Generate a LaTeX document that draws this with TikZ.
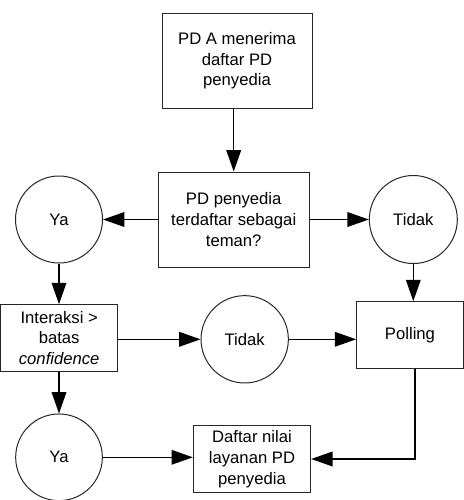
\documentclass[tikz,border=0pt]{standalone}
\usepackage{fontspec}
\setmainfont{Liberation Sans}
\usetikzlibrary{arrows.meta}
\begin{document}
\begin{tikzpicture}[x=0.75pt,y=-0.75pt,
  every node/.style={font=\fontsize{12.5}{15.6}\selectfont, align=center, inner sep=0pt},
  box/.style={draw=black!85, line width=0.75pt, rectangle},
  circ/.style={draw=black!85, line width=0.75pt, circle},
  arr/.style={draw=black, line width=0.9pt, -{Triangle[length=16pt,width=11pt]}}]
\useasboundingbox (0,0) rectangle (464,500);
\node[box, minimum width=112.5pt, minimum height=71.25pt] (top) at (237,60.75) {PD A menerima\\daftar PD\\penyedia};
\node[box, minimum width=113pt, minimum height=71.25pt] (mid) at (233.7,219.5) {PD penyedia\\terdaftar sebagai\\teman?};
\node[circ, minimum size=65.25pt] (ya1) at (59,219.5) {Ya};
\node[circ, minimum size=66pt] (tidak1) at (413.3,219.5) {Tidak};
\node[box, minimum width=87.75pt, minimum height=50pt] (inter) at (59.2,338) {Interaksi >\\batas\\\textit{confidence}};
\node[circ, minimum size=65.5pt] (tidak2) at (244.7,339.3) {Tidak};
\node[box, minimum width=80pt, minimum height=50pt] (poll) at (410,335) {Polling};
\node[box, minimum width=88pt, minimum height=50pt] (daftar) at (252,459) {Daftar nilai\\layanan PD\\penyedia};
\node[circ, minimum size=65pt] (ya2) at (59,457.3) {Ya};
\draw[arr] (mid.north |- top.south) -- (mid.north);
\draw[arr] (mid.west) -- (ya1.east);
\draw[arr] (mid.east) -- (tidak1.west);
\draw[arr] (ya1.south) -- (ya1.south |- inter.north);
\draw[arr] (tidak1.south) -- (tidak1.south |- poll.north);
\draw[arr] (inter.east |- tidak2.west) -- (tidak2.west);
\draw[arr] (tidak2.east) -- (tidak2.east -| poll.west);
\draw[arr] (inter.south -| ya2.north) -- (ya2.north);
\draw[arr] (ya2.east) -- (ya2.east -| daftar.west);
\draw[arr] ([xshift=3.75pt]poll.south) |- (daftar.east);
\end{tikzpicture}
\end{document}
